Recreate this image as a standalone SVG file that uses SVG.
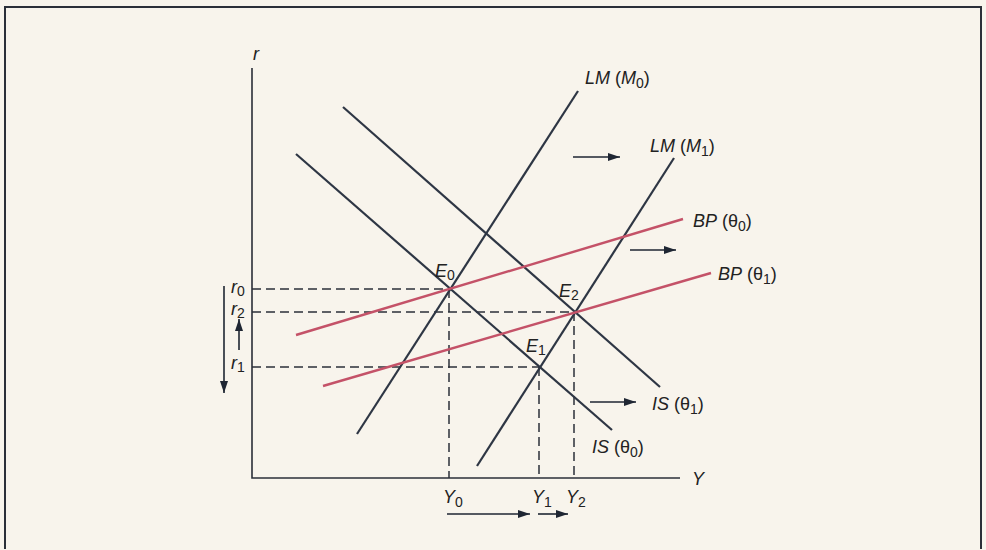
<svg xmlns="http://www.w3.org/2000/svg" width="986" height="550" viewBox="0 0 986 550">
<defs>
<marker id="ah" markerUnits="userSpaceOnUse" markerWidth="13" markerHeight="10" refX="12" refY="5" orient="auto">
<path d="M0,1 L12,5 L0,9 Z" fill="#1f2633"/>
</marker>
<style>
.bg{fill:#f8f4ec}
.frame{fill:none;stroke:#2b2f38;stroke-width:2}
.axis{fill:none;stroke:#2b2f38;stroke-width:1.6}
.curve{fill:none;stroke:#2e3644;stroke-width:2.2}
.bp{fill:none;stroke:#c45268;stroke-width:2.4}
.dash{fill:none;stroke:#2b2f38;stroke-width:1.5;stroke-dasharray:9 5}
.arr{fill:none;stroke:#1f2633;stroke-width:1.6;marker-end:url(#ah)}
text{font-family:"Liberation Sans",Arial,sans-serif;font-size:18px;fill:#222}
.it{font-style:italic}
.sub{font-size:14px}
</style>
</defs>
<rect class="bg" x="0" y="0" width="986" height="550"/>
<path class="frame" d="M5,549 V7 H981 V549"/>

<g id="axes">
<path class="axis" d="M252,68 V478 H680"/>
<text class="it" x="253" y="60">r</text>
<text class="it" x="692" y="485">Y</text>
</g>

<g id="connectors">
<path class="dash" d="M252,289 H449 M252,312 H574 M252,367 H539"/>
<path class="dash" d="M449,289 V478 M539,367 V478 M574,312 V478"/>
<path class="arr" d="M573,157 H620"/>
<path class="arr" d="M630,250 H676"/>
<path class="arr" d="M590,402 H636"/>
<path class="arr" d="M447,514 H530"/>
<path class="arr" d="M538,514 H568"/>
<path class="arr" d="M224,286 V393"/>
<path class="arr" d="M239,350 V319"/>
</g>

<g id="LM0">
<line class="curve" x1="578" y1="91" x2="357" y2="434"/>
<text x="585" y="84"><tspan class="it">LM</tspan> (<tspan class="it">M</tspan><tspan class="sub" dy="4">0</tspan><tspan dy="-4">)</tspan></text>
</g>
<g id="LM1">
<line class="curve" x1="674" y1="158" x2="477" y2="466"/>
<text x="650" y="152"><tspan class="it">LM</tspan> (<tspan class="it">M</tspan><tspan class="sub" dy="4">1</tspan><tspan dy="-4">)</tspan></text>
</g>
<g id="IS0">
<line class="curve" x1="296" y1="154" x2="612" y2="430"/>
<text x="592" y="453"><tspan class="it">IS</tspan> (θ<tspan class="sub" dy="4">0</tspan><tspan dy="-4">)</tspan></text>
</g>
<g id="IS1">
<line class="curve" x1="343" y1="107" x2="660" y2="387"/>
<text x="652" y="410"><tspan class="it">IS</tspan> (θ<tspan class="sub" dy="4">1</tspan><tspan dy="-4">)</tspan></text>
</g>
<g id="BP0">
<line class="bp" x1="296" y1="335" x2="683" y2="219"/>
<text x="693" y="227"><tspan class="it">BP</tspan> (θ<tspan class="sub" dy="4">0</tspan><tspan dy="-4">)</tspan></text>
</g>
<g id="BP1">
<line class="bp" x1="323" y1="386" x2="711" y2="273"/>
<text x="718" y="280"><tspan class="it">BP</tspan> (θ<tspan class="sub" dy="4">1</tspan><tspan dy="-4">)</tspan></text>
</g>

<g id="E0"><text x="435" y="277"><tspan class="it">E</tspan><tspan class="sub" dy="3">0</tspan></text></g>
<g id="E2"><text x="559" y="297"><tspan class="it">E</tspan><tspan class="sub" dy="3">2</tspan></text></g>
<g id="E1"><text x="526" y="352"><tspan class="it">E</tspan><tspan class="sub" dy="3">1</tspan></text></g>

<g id="r-labels">
<text x="231" y="293"><tspan class="it">r</tspan><tspan class="sub" dy="3">0</tspan></text>
<text x="231" y="315"><tspan class="it">r</tspan><tspan class="sub" dy="3">2</tspan></text>
<text x="231" y="369"><tspan class="it">r</tspan><tspan class="sub" dy="3">1</tspan></text>
</g>
<g id="Y-labels">
<text x="443" y="503"><tspan class="it">Y</tspan><tspan class="sub" dy="4">0</tspan></text>
<text x="532" y="503"><tspan class="it">Y</tspan><tspan class="sub" dy="4">1</tspan></text>
<text x="566" y="503"><tspan class="it">Y</tspan><tspan class="sub" dy="4">2</tspan></text>
</g>
</svg>
